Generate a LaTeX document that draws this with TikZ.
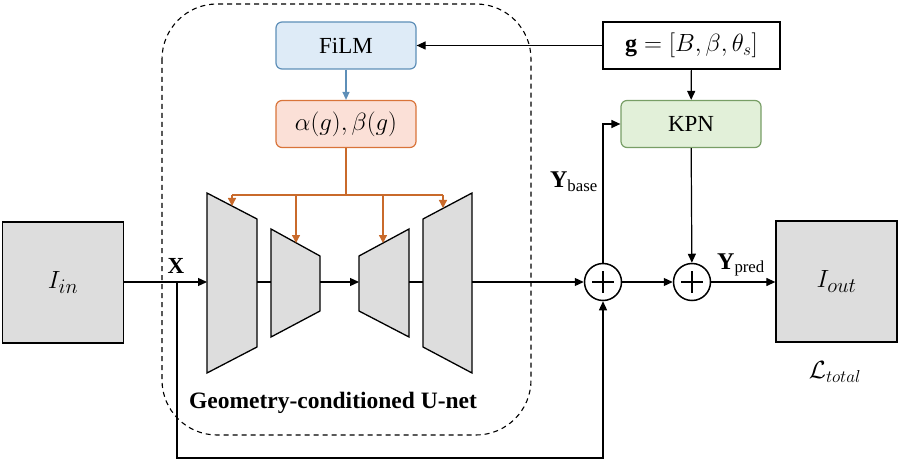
\documentclass[tikz,border=0pt]{standalone}
\usepackage{fontspec}
\setmainfont{Liberation Serif}
\usetikzlibrary{arrows.meta,calc}
\definecolor{filmfill}{HTML}{DEEBF7}
\definecolor{filmline}{HTML}{5E8FB8}
\definecolor{abfill}{HTML}{FBE0D7}
\definecolor{abline}{HTML}{D9743A}
\definecolor{oline}{HTML}{C96A2B}
\definecolor{kpnfill}{HTML}{E2F0D9}
\definecolor{kpnline}{HTML}{789E66}
\definecolor{grayfill}{HTML}{DDDDDD}
\begin{document}
\begin{tikzpicture}[x=1pt,y=-1pt,
  every node/.style={font=\fontsize{23}{27}\selectfont, inner sep=0pt},
  mth/.style={font=\fontsize{24}{28}\selectfont},
  ln/.style={line width=1.2pt, black},
  arr/.style={ln, -{Triangle[length=9pt,width=8pt]}},
  oarr/.style={line width=1.3pt, oline, -{Triangle[length=8pt,width=8pt]}},
  rbox/.style={draw, line width=1.2pt, rounded corners=6pt, minimum width=140pt, minimum height=47pt},
  filmbox/.style={rbox, fill=filmfill, draw=filmline},
  abbox/.style={rbox, fill=abfill, draw=abline, mth},
  kpnbox/.style={rbox, fill=kpnfill, draw=kpnline},
  gbox/.style={draw, line width=1.2pt, fill=white, minimum width=177pt, minimum height=47pt, mth},
  graybox/.style={draw, line width=1.3pt, fill=grayfill, minimum width=121pt, minimum height=121pt, font=\fontsize{28}{32}\selectfont},
  trap/.style={draw, line width=1.3pt, fill=grayfill, line join=miter},
  plus/.style={circle, draw, line width=1.5pt, minimum size=37pt, fill=white,
    path picture={\draw[line width=1.8pt] ($(path picture bounding box.center)+(-11,0)$) -- ++(22,0)
      ($(path picture bounding box.center)+(0,-11)$) -- ++(0,22);}},
]
\useasboundingbox (0,0) rectangle (901,462);

% dashed U-net container
\draw[line width=1.1pt, dash pattern=on 5pt off 4pt, rounded corners=55pt] (162,4) rectangle (531,435);

% boxes
\node[filmbox] (film) at (346,45.5) {FiLM};
\node[abbox] (ab) at (346,124) {$\alpha(g),\beta(g)$};
\node[gbox] (g) at (691.5,45.5) {$\mathbf{g}=[B,\beta,\theta_s]$};
\node[kpnbox] (kpn) at (691,124) {KPN};
\node[graybox] (iin) at (63,282.5) {$I_{in}$};
\node[graybox] (iout) at (836.5,281.5) {$I_{out}$};
\node[plus] (p1) at (603,282) {};
\node[plus] (p2) at (692,282) {};

% trapezoids
\draw[trap] (207,193) -- (257,219) -- (257,347) -- (207,373) -- cycle;
\draw[trap] (271,229) -- (320,256) -- (320,311) -- (271,337) -- cycle;
\draw[trap] (359,256) -- (409,229) -- (409,337) -- (359,311) -- cycle;
\draw[trap] (423,219) -- (472,193) -- (472,373) -- (423,347) -- cycle;
\coordinate (t1w) at (207,282); \coordinate (t1e) at (257,282);
\coordinate (t2w) at (271,282); \coordinate (t2e) at (320,282);
\coordinate (t3w) at (359,282); \coordinate (t3e) at (409,282);
\coordinate (t4w) at (423,282); \coordinate (t4e) at (472,282);

% FiLM -> alpha,beta
\draw[line width=1.2pt, filmline, -{Triangle[length=8pt,width=7pt]}] (film) -- (ab);

% orange modulation bus
\coordinate (bus) at (346,195);
\coordinate (b1) at (232,195); \coordinate (e1) at (232,206);
\coordinate (b2) at (296,195); \coordinate (e2) at (296,243);
\coordinate (b3) at (383,195); \coordinate (e3) at (383,243);
\coordinate (b4) at (443,195); \coordinate (e4) at (443,208);
\draw[line width=1.3pt, oline] (ab.south) -- (bus);
\draw[line width=1.3pt, oline] (b1) -- (b4);
\draw[oarr] (b1) -- (e1);
\draw[oarr] (b2) -- (e2);
\draw[oarr] (b3) -- (e3);
\draw[oarr] (b4) -- (e4);

% main path
\draw[arr] (iin.east |- t1w) -- (t1w);
\draw[ln] (t1e) -- (t2w);
\draw[arr] (t2e) -- (t3w);
\draw[ln] (t3e) -- (t4w);
\draw[arr] (t4e) -- (p1.west);
\draw[arr] (p1) -- (p2);
\draw[arr] (p2) -- (iout.west |- p2);

% g connections
\draw[arr] (g.west) -- (film.east);
\draw[arr] (g) -- (kpn);
\draw[arr] (kpn) -- (p2);
\draw[arr] (p1.north) |- (kpn.west);

% skip connection
\coordinate (xj) at (177,282);
\coordinate (bl) at (177,458);
\draw[arr] (xj) -- (bl) -| (p1.south);

% labels
\node (xlab) at (176,266) {\fontsize{23}{27}\selectfont\textbf{X}};
\node[anchor=east, mth] (ybase) at (598,182) {$\mathbf{Y}_{\mathrm{base}}$};
\node[mth] (ypred) at (741,265) {$\mathbf{Y}_{\mathrm{pred}}$};
\node[font=\fontsize{27}{30}\selectfont] (ltot) at (835,372) {$\mathcal{L}_{total}$};
\node (unet) at (333,403) {\fontsize{23.5}{27}\selectfont\textbf{Geometry-conditioned U-net}};
\end{tikzpicture}
\end{document}
